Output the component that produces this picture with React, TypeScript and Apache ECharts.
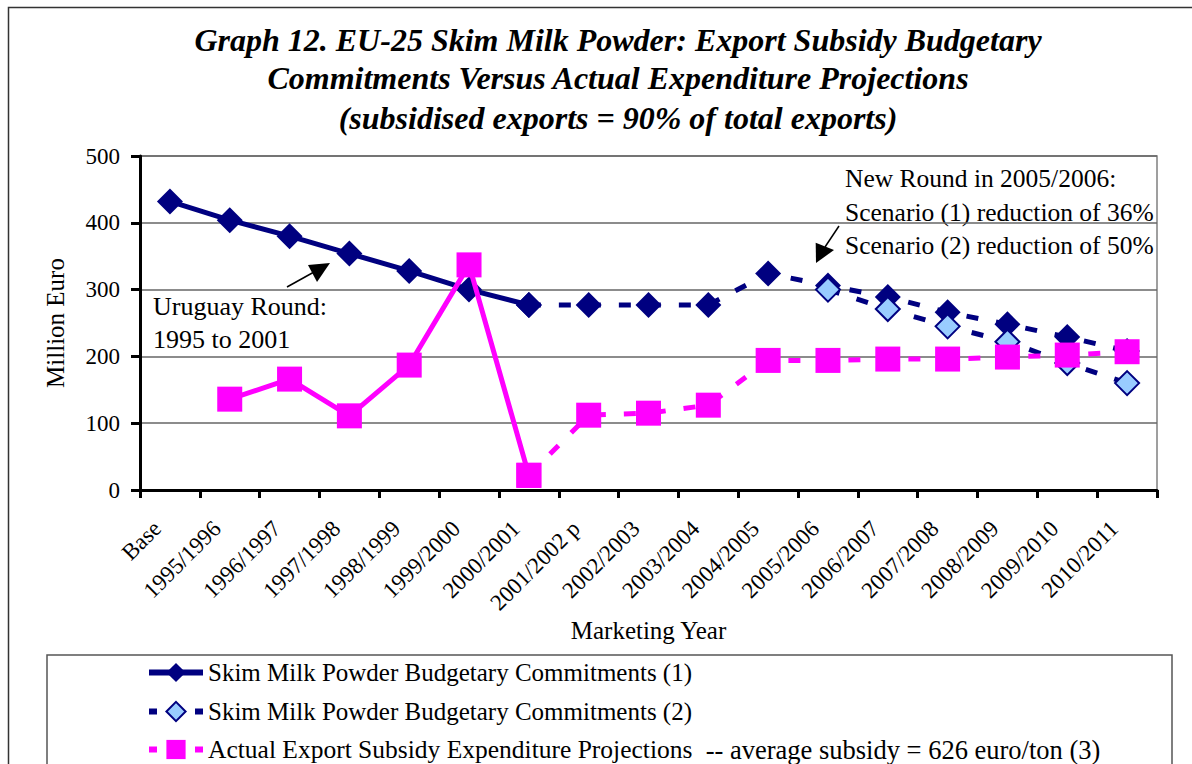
import React, { useEffect, useRef } from 'react';
import * as echarts from 'echarts';

const categories = [
  'Base', '1995/1996', '1996/1997', '1997/1998', '1998/1999', '1999/2000',
  '2000/2001', '2001/2002 p', '2002/2003', '2003/2004', '2004/2005',
  '2005/2006', '2006/2007', '2007/2008', '2008/2009', '2009/2010', '2010/2011',
];

const commitments1 = [432, 404, 380, 354, 328, 300, 277, 277, 277, 277, 324, 306, 289, 266, 248, 229, 208];
const commitments2 = [null, null, null, null, null, null, null, null, null, null, null, 300, 271, 245, 222, 190, 160];
const actualExpenditure = [null, 136, 166, 111, 187, 337, 22, 112, 115, 127, 194, 194, 196, 196, 199, 202, 207];

const titleLines = [
  'Graph 12. EU-25 Skim Milk Powder: Export Subsidy Budgetary',
  'Commitments Versus Actual Expenditure Projections',
  '(subsidised exports = 90% of total exports)',
];
const uruguayNote = ['Uruguay Round:', '1995 to 2001'];
const newRoundNote = ['New Round in 2005/2006:', 'Scenario (1) reduction of 36%', 'Scenario (2) reduction of 50%'];

const NAME1 = 'Skim Milk Powder Budgetary Commitments (1)';
const NAME2 = 'Skim Milk Powder Budgetary Commitments (2)';
const NAME3_MAIN = 'Actual Export Subsidy Expenditure Projections';
const NAME3_NOTE = '  -- average subsidy = 626 euro/ton (3)';
const NAME3 = NAME3_MAIN + NAME3_NOTE;

const SPLIT_INDEX = 6; // solid lines up to 2000/2001, dashed afterwards

const NAVY = '#000080';
const PINK = '#FF00FF';
const LIGHT = '#99CCFF';
const SERIF = '"Liberation Serif", "Times New Roman", serif';
const DASH = [12, 18];

export default function App() {
  const ref = useRef<HTMLDivElement>(null);

  useEffect(() => {
    if (!ref.current) return;
    const chart = echarts.init(ref.current, null, { renderer: 'svg' });

    const c1Solid = commitments1.map((v, i) => (i <= SPLIT_INDEX ? v : null));
    const c1Dashed = commitments1.map((v, i) => (i >= SPLIT_INDEX ? v : null));
    const aSolid = actualExpenditure.map((v, i) => (i <= SPLIT_INDEX ? v : null));
    const aDashed = actualExpenditure.map((v, i) => (i >= SPLIT_INDEX ? v : null));

    const noteFont = { fontSize: 25.5, fontFamily: SERIF, fill: '#000' };

    const graphics: any[] = [
      { type: 'rect', shape: { x: 8.5, y: 7.5, width: 1300, height: 900 }, style: { fill: 'none', stroke: '#333', lineWidth: 1.5 }, silent: true, z: -10 },
      { type: 'rect', shape: { x: 47, y: 655, width: 1125, height: 200 }, style: { fill: 'none', stroke: '#555', lineWidth: 1.5 }, silent: true, z: -10 },
      ...titleLines.map((t, i) => ({
        type: 'text', x: 618, y: [40, 78, 118][i],
        style: { text: t, fontSize: 32, fontStyle: 'italic', fontWeight: 'bold', fontFamily: SERIF, fill: '#000', textAlign: 'center', textVerticalAlign: 'middle' },
      })),
      ...uruguayNote.map((t, i) => ({
        type: 'text', x: 153, y: [306, 339][i],
        style: { ...noteFont, fontSize: 26, text: t, textAlign: 'left', textVerticalAlign: 'middle' },
      })),
      ...newRoundNote.map((t, i) => ({
        type: 'text', x: 845, y: [178, 212, 245][i],
        style: { ...noteFont, text: t, textAlign: 'left', textVerticalAlign: 'middle' },
      })),
      { type: 'rect', shape: { x: 1158, y: 160, width: 40, height: 110 }, style: { fill: '#fff' }, silent: true },
      { type: 'line', shape: { x1: 287, y1: 287, x2: 314, y2: 272 }, style: { stroke: '#000', lineWidth: 1.5 } },
      { type: 'polygon', shape: { points: [[330, 263], [308, 265], [317, 282]] }, style: { fill: '#000' } },
      { type: 'line', shape: { x1: 839, y1: 226, x2: 825, y2: 247 }, style: { stroke: '#000', lineWidth: 1.5 } },
      { type: 'polygon', shape: { points: [[816, 263], [815.7, 242.7], [834, 250]] }, style: { fill: '#000' } },
    ];

    const legendBase = {
      orient: 'horizontal', left: 146, itemWidth: 54, itemHeight: 24, padding: 0,
      textStyle: {
        fontSize: 25, fontFamily: SERIF, color: '#000', lineHeight: 24,
        rich: {
          main: { fontSize: 25.5, fontFamily: SERIF, color: '#000', lineHeight: 24 },
          note: { fontSize: 26.5, fontFamily: SERIF, color: '#000', lineHeight: 24 },
        },
      },
      formatter: (name: string) => (name === NAME3 ? `{main|${NAME3_MAIN}}{note|${NAME3_NOTE}}` : name),
    };

    chart.setOption({
      animation: false,
      backgroundColor: '#fff',
      grid: { left: 140, top: 156, right: 35, bottom: 274, show: true, borderColor: '#808080', borderWidth: 1.5, backgroundColor: 'transparent' },
      legend: [
        { ...legendBase, top: 660, data: [{ name: NAME1, lineStyle: { width: 6 } }] },
        { ...legendBase, top: 699, data: [{ name: NAME2, lineStyle: { width: 6, type: [8, 38] } }] },
        { ...legendBase, top: 736, data: [{ name: NAME3, lineStyle: { width: 6, type: [8, 38] } }] },
      ],
      xAxis: {
        type: 'category', data: categories, boundaryGap: true,
        axisLine: { lineStyle: { color: '#000', width: 3 } },
        axisTick: { show: true, length: 8, lineStyle: { color: '#000', width: 3 } },
        axisLabel: { rotate: 45, interval: 0, fontSize: 23, fontFamily: SERIF, color: '#000', margin: 22, padding: [0, 18, 0, 0] },
        splitLine: { show: false },
        name: 'Marketing Year', nameLocation: 'middle', nameGap: 127,
        nameTextStyle: { fontSize: 25, fontFamily: SERIF, color: '#000' },
      },
      yAxis: {
        type: 'value', min: 0, max: 500, interval: 100,
        axisLine: { show: true, lineStyle: { color: '#000', width: 3 } },
        axisTick: { show: true, length: 9, lineStyle: { color: '#000', width: 3 } },
        axisLabel: { fontSize: 23, fontFamily: SERIF, color: '#000', margin: 20 },
        splitLine: { show: true, lineStyle: { color: '#666', width: 1.5 } },
        name: 'Million Euro', nameLocation: 'middle', nameGap: 72, nameRotate: 90,
        nameTextStyle: { fontSize: 25, fontFamily: SERIF, color: '#000' },
      },
      series: [
        {
          name: NAME1, type: 'line', data: c1Solid, symbol: 'diamond', symbolSize: 26,
          lineStyle: { color: NAVY, width: 5 }, itemStyle: { color: NAVY }, z: 2,
        },
        {
          name: NAME1, type: 'line', data: c1Dashed, symbol: 'diamond', symbolSize: 26,
          lineStyle: { color: NAVY, width: 5, type: DASH }, itemStyle: { color: NAVY }, z: 2,
        },
        {
          name: NAME2, type: 'line', data: commitments2, symbol: 'diamond', symbolSize: 24,
          lineStyle: { color: NAVY, width: 5, type: DASH }, itemStyle: { color: LIGHT, borderColor: NAVY, borderWidth: 2 }, z: 3,
        },
        {
          name: NAME3, type: 'line', data: aDashed, symbol: 'rect', symbolSize: 25,
          lineStyle: { color: PINK, width: 5, type: DASH }, itemStyle: { color: PINK }, z: 4,
        },
        {
          name: NAME3, type: 'line', data: aSolid, symbol: 'rect', symbolSize: 25,
          lineStyle: { color: PINK, width: 5 }, itemStyle: { color: PINK }, z: 4,
        },
      ],
      graphic: graphics,
    });

    return () => chart.dispose();
  }, []);

  return <div ref={ref} style={{ position: 'fixed', left: 0, top: 0, width: 1192, height: 764 }} />;
}
